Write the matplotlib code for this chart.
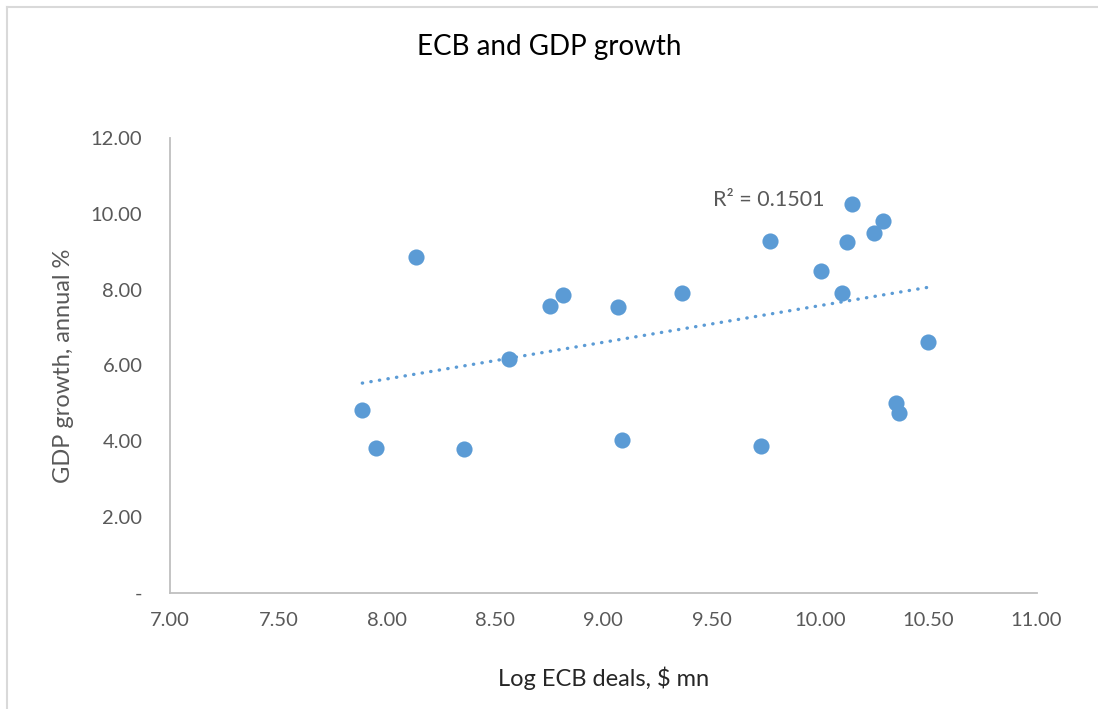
import numpy as np
import matplotlib
matplotlib.use("Agg")
import matplotlib.pyplot as plt
from matplotlib.lines import Line2D

plt.rcParams['font.family'] = ['Lato', 'DejaVu Sans']

# Log ECB deals ($ mn) vs GDP growth (annual %)
ecb_log = [7.887, 7.950, 8.136, 8.358, 8.566, 8.755, 8.815, 9.069, 9.085,
           9.365, 9.730, 9.771, 10.007, 10.104, 10.127, 10.150, 10.250,
           10.293, 10.353, 10.367, 10.497]
gdp_growth = [4.83, 3.83, 8.85, 3.80, 6.18, 7.57, 7.86, 7.55, 4.04,
              7.92, 3.88, 9.29, 8.48, 7.92, 9.26, 10.26, 9.50,
              9.81, 5.01, 4.74, 6.62]

blue = "#5B9BD5"
grey_txt = "#595959"

fig = plt.figure(figsize=(10.98, 7.09), dpi=100)
ax = fig.add_axes([0.155, 0.1636, 0.789, 0.6418])

ax.scatter(ecb_log, gdp_growth, s=135, color=blue, zorder=3, linewidths=0)

# linear trendline
x = np.array(ecb_log)
y = np.array(gdp_growth)
slope, icpt = np.polyfit(x, y, 1)
xs = np.array([x.min(), x.max()])
ax.plot(xs, slope * xs + icpt, color=blue, lw=2.4,
        linestyle=(0, (0.1, 2.5)), dash_capstyle='round', zorder=2)
ax.text(9.505, 10.37, "R² = 0.1501", fontsize=15.5, color=grey_txt,
        ha='left', va='center')

ax.set_xlim(7, 11)
ax.set_ylim(0, 12)
ax.set_xticks(np.arange(7, 11.01, 0.5))
ax.set_yticks(np.arange(0, 12.01, 2))
ax.set_xticklabels(["%.2f" % v for v in np.arange(7, 11.01, 0.5)])
ax.set_yticklabels(["-" if v == 0 else "%.2f" % v for v in np.arange(0, 12.01, 2)])
ax.tick_params(length=0, labelsize=14.5, labelcolor=grey_txt)
ax.tick_params(axis='x', pad=14)
ax.tick_params(axis='y', pad=20)

for s in ['top', 'right']:
    ax.spines[s].set_visible(False)
for s in ['left', 'bottom']:
    ax.spines[s].set_color("#BFBFBF")
    ax.spines[s].set_linewidth(1.3)

ax.set_xlabel("Log ECB deals, $ mn", fontsize=17, color="#262626", labelpad=27)
ax.set_ylabel("GDP growth, annual %", fontsize=17, color=grey_txt, labelpad=12)
fig.text(0.5, 0.934, "ECB and GDP growth", fontsize=20, color="#000000",
         ha='center', va='center')

# chart area border
fig.add_artist(Line2D([0.0068, 0.0068], [0.9908, 0.0], transform=fig.transFigure,
                      color="#D9D9D9", lw=1.5))
fig.add_artist(Line2D([0.0068, 1.0], [0.9908, 0.9908], transform=fig.transFigure,
                      color="#D9D9D9", lw=1.5))

fig.savefig("out.png", dpi=100)
